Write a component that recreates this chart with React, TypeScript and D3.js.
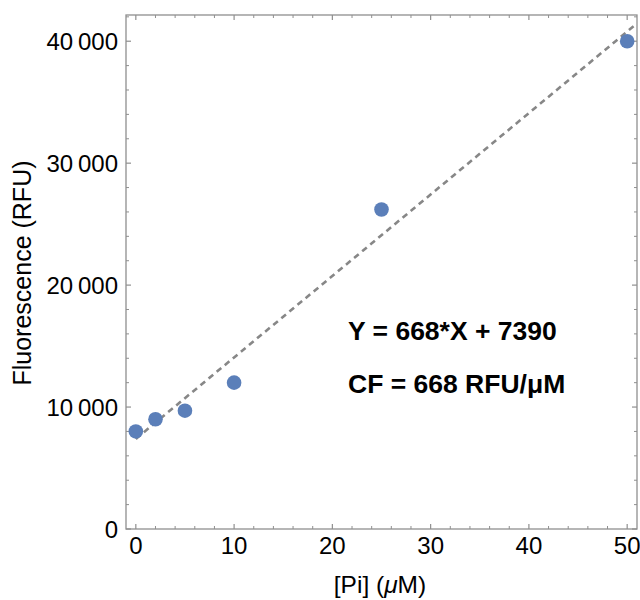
import React from "react";
import * as d3 from "d3";

const concentrations = [0, 2, 5, 10, 25, 50];
const fluorescence = [8000, 9000, 9700, 12000, 26200, 40000];
const slope = 668;
const intercept = 7390;
const xTicks = [0, 10, 20, 30, 40, 50];
const yTicks = [0, 10000, 20000, 30000, 40000];
const xMinor = d3.range(0, 51, 2).filter((v) => v % 10 !== 0);
const yMinor = d3.range(0, 42001, 2000).filter((v) => v % 10000 !== 0);
const equationText = "Y = 668*X + 7390";
const cfText = "CF = 668 RFU/\u03BCM";

const W = 640;
const H = 600;
const left = 126;
const right = 637;
const top = 15;
const bottom = 529;

const FONT = "'Liberation Sans', Arial, Helvetica, sans-serif";
const FRAME = "#8f8f8f";

function fmt(v: number) {
  if (v === 0) return "0";
  const s = String(v);
  return s.slice(0, s.length - 3) + "\u2009" + s.slice(s.length - 3);
}

export default function App() {
  const x = d3.scaleLinear().domain([-1, 51]).range([left, right]);
  const y = d3.scaleLinear().domain([0, 42150]).range([bottom, top]);
  const lineGen = d3
    .line<number>()
    .x((d) => x(d))
    .y((d) => y(slope * d + intercept));
  const lineX = [0, 51];

  return (
    <svg
      width={W}
      height={H}
      style={{ position: "absolute", left: 0, top: 0, background: "#fff" }}
      fontFamily={FONT}
    >
      <rect x={0} y={0} width={W} height={H} fill="#fff" />
      <defs>
        <clipPath id="plotclip">
          <rect x={left} y={top} width={right - left} height={bottom - top} />
        </clipPath>
      </defs>
      {/* frame */}
      <rect
        x={left}
        y={top}
        width={right - left}
        height={bottom - top}
        fill="none"
        stroke={FRAME}
        strokeWidth={1.3}
      />
      {/* x ticks */}
      {xTicks.map((t) => (
        <g key={"xt" + t}>
          <line x1={x(t)} x2={x(t)} y1={bottom} y2={bottom - 5} stroke={FRAME} strokeWidth={1.2} />
          <line x1={x(t)} x2={x(t)} y1={top} y2={top + 5} stroke={FRAME} strokeWidth={1.2} />
          <text x={x(t)} y={553.5} textAnchor="middle" fontSize={24} fill="#000">
            {t}
          </text>
        </g>
      ))}
      {xMinor.map((t) => (
        <g key={"xm" + t}>
          <line x1={x(t)} x2={x(t)} y1={bottom} y2={bottom - 3} stroke={FRAME} strokeWidth={1} />
          <line x1={x(t)} x2={x(t)} y1={top} y2={top + 3} stroke={FRAME} strokeWidth={1} />
        </g>
      ))}
      {/* y ticks */}
      {yTicks.map((t) => (
        <g key={"yt" + t}>
          <line x1={left} x2={left + 5} y1={y(t)} y2={y(t)} stroke={FRAME} strokeWidth={1.2} />
          <line x1={right} x2={right - 5} y1={y(t)} y2={y(t)} stroke={FRAME} strokeWidth={1.2} />
          <text x={118} y={y(t)} dy="0.36em" textAnchor="end" fontSize={24} fill="#000">
            {fmt(t)}
          </text>
        </g>
      ))}
      {yMinor.map((t) => (
        <g key={"ym" + t}>
          <line x1={left} x2={left + 3} y1={y(t)} y2={y(t)} stroke={FRAME} strokeWidth={1} />
          <line x1={right} x2={right - 3} y1={y(t)} y2={y(t)} stroke={FRAME} strokeWidth={1} />
        </g>
      ))}
      {/* fit line */}
      <path
        d={lineGen(lineX) || ""}
        fill="none"
        stroke="#878787"
        strokeWidth={2.6}
        strokeDasharray="6 4.5"
        clipPath="url(#plotclip)"
      />
      {/* points */}
      {concentrations.map((c, i) => (
        <circle key={"p" + i} cx={x(c)} cy={y(fluorescence[i])} r={7.3} fill="#5b7fb9" />
      ))}
      {/* annotations */}
      <text x={348} y={340} fontSize={26.5} fontWeight="bold" fill="#000">
        {equationText}
      </text>
      <text x={348} y={393} fontSize={26.5} fontWeight="bold" fill="#000">
        {cfText}
      </text>
      {/* axis labels */}
      <text x={380} y={593} textAnchor="middle" fontSize={24.5} fill="#000">
        [Pi] (<tspan fontStyle="italic">{"\u03BC"}</tspan>M)
      </text>
      <text
        transform={`translate(31, 273) rotate(-90)`}
        textAnchor="middle"
        fontSize={25}
        fill="#000"
      >
        Fluorescence (RFU)
      </text>
    </svg>
  );
}
